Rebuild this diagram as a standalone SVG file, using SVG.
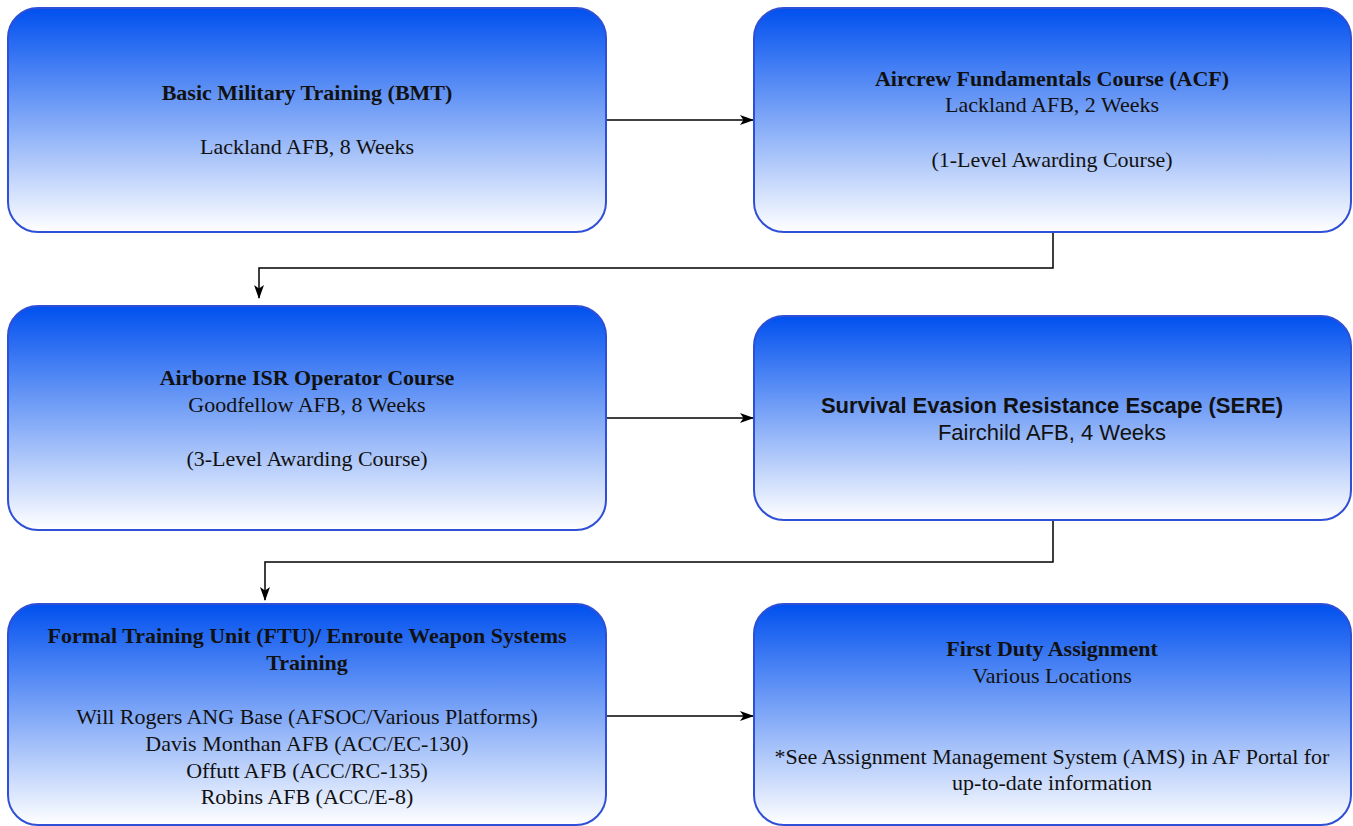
<svg xmlns="http://www.w3.org/2000/svg" width="1353" height="826" viewBox="0 0 1353 826">
<defs>
<linearGradient id="g" x1="0" y1="0" x2="0" y2="1">
<stop offset="0" stop-color="#0050ef"/>
<stop offset="1" stop-color="#ffffff"/>
</linearGradient>
<marker id="arr" viewBox="0 0 14 10" refX="13" refY="5" markerWidth="14" markerHeight="10" markerUnits="userSpaceOnUse" orient="auto">
<path d="M0,0 L14,5 L0,10 L3.5,5 Z" fill="#000"/>
</marker>
<style>
.box{fill:url(#g);stroke:#2e4fd6;stroke-width:2}
.t{font-family:"Liberation Serif","Times New Roman",serif;font-size:22px;fill:#111;text-anchor:middle}
.s{font-family:"Liberation Sans",Arial,sans-serif;font-size:22px;fill:#111;text-anchor:middle}
.b{font-weight:bold}
.c{fill:none;stroke:#000;stroke-width:1.5;marker-end:url(#arr)}
</style>
</defs>
<rect width="1353" height="826" fill="#ffffff"/>
<g id="connectors">
<path class="c" d="M606,120 H753"/>
<path class="c" d="M1053,232 V268 H259 V298"/>
<path class="c" d="M606,418 H753"/>
<path class="c" d="M1053,520 V562 H265 V600"/>
<path class="c" d="M606,716 H753"/>
</g>
<g id="bmt">
<rect class="box" x="8" y="8" width="598" height="224" rx="30"/>
<text class="t b" x="307" y="100">Basic Military Training (BMT)</text>
<text class="t" x="307" y="154">Lackland AFB, 8 Weeks</text>
</g>
<g id="acf">
<rect class="box" x="754" y="8" width="597" height="224" rx="30"/>
<text class="t b" x="1052" y="86">Aircrew Fundamentals Course (ACF)</text>
<text class="t" x="1052" y="112">Lackland AFB, 2 Weeks</text>
<text class="t" x="1052" y="167">(1-Level Awarding Course)</text>
</g>
<g id="isr">
<rect class="box" x="8" y="306" width="598" height="224" rx="30"/>
<text class="t b" x="307" y="385">Airborne ISR Operator Course</text>
<text class="t" x="307" y="412">Goodfellow AFB, 8 Weeks</text>
<text class="t" x="307" y="466">(3-Level Awarding Course)</text>
</g>
<g id="sere">
<rect class="box" x="754" y="316" width="597" height="204" rx="30"/>
<text class="s b" x="1052" y="413">Survival Evasion Resistance Escape (SERE)</text>
<text class="s" x="1052" y="440">Fairchild AFB, 4 Weeks</text>
</g>
<g id="ftu">
<rect class="box" x="8" y="604" width="598" height="221" rx="30"/>
<text class="t b" x="307" y="643">Formal Training Unit (FTU)/ Enroute Weapon Systems</text>
<text class="t b" x="307" y="670">Training</text>
<text class="t" x="307" y="724">Will Rogers ANG Base (AFSOC/Various Platforms)</text>
<text class="t" x="307" y="751">Davis Monthan AFB (ACC/EC-130)</text>
<text class="t" x="307" y="778">Offutt AFB (ACC/RC-135)</text>
<text class="t" x="307" y="804">Robins AFB (ACC/E-8)</text>
</g>
<g id="duty">
<rect class="box" x="754" y="604" width="597" height="221" rx="30"/>
<text class="t b" x="1052" y="656">First Duty Assignment</text>
<text class="t" x="1052" y="683">Various Locations</text>
<text class="t" x="1052" y="764">*See Assignment Management System (AMS) in AF Portal for</text>
<text class="t" x="1052" y="790">up-to-date information</text>
</g>
</svg>
